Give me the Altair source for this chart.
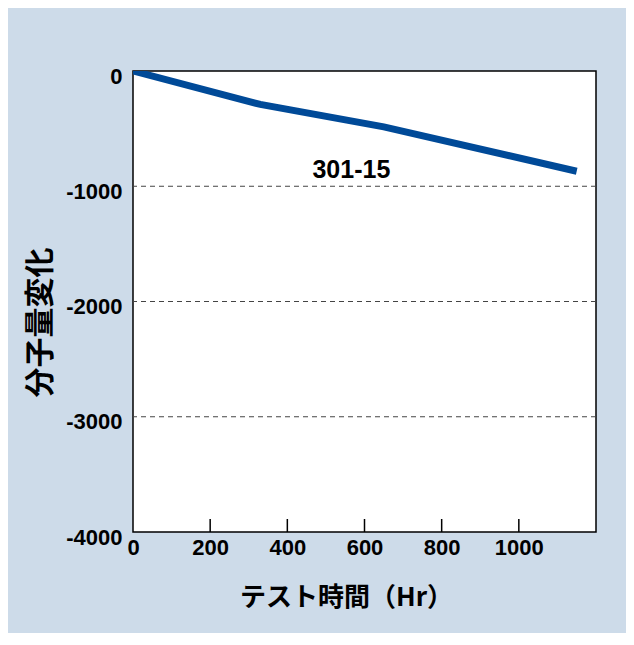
import altair as alt
import pandas as pd

# ---- data ----
HOURS = [0, 330, 650, 1150]
MW_CHANGE = [0, -290, -485, -870]
X_TICKS = [0, 200, 400, 600, 800, 1000]
Y_TICKS = [0, -1000, -2000, -3000, -4000]
GRID_VALUES = [-1000, -2000, -3000]
INNER_TICKS = [200, 400, 600, 800, 1000]
LABEL_TEXT = ["301-15"]
LABEL_X = [566]
LABEL_Y = [-855]

line_df = pd.DataFrame({"hours": HOURS, "change": MW_CHANGE})
grid_df = pd.DataFrame({"v": GRID_VALUES})
tick_df = pd.DataFrame({"t": INNER_TICKS})
label_df = pd.DataFrame({"x": LABEL_X, "y": LABEL_Y, "text": LABEL_TEXT})

W, H = 463, 461
x_scale = alt.Scale(domain=[0, 1200], nice=False, zero=False)
y_scale = alt.Scale(domain=[-4000, 0], nice=False)

NUM_FONT = "Liberation Sans"
JP_FONT = "Noto Sans CJK JP"

x_axis = alt.Axis(
    values=X_TICKS,
    labelExpr="toString(datum.value)",
    ticks=False,
    domain=False,
    grid=False,
    labelFlush=False,
    labelOverlap=False,
    labelPadding=5,
    labelFont=NUM_FONT,
    labelFontSize=22,
    labelFontWeight="bold",
    labelColor="black",
    title="テスト時間（Hr）",
    titleFont=JP_FONT,
    titleFontSize=26,
    titleFontWeight="bold",
    titleColor="black",
    titleX=213,
    titleY=65,
    titleAlign="center",
    titleBaseline="middle",
)

y_axis = alt.Axis(
    values=Y_TICKS,
    labelExpr="toString(datum.value)",
    ticks=False,
    domain=False,
    grid=False,
    labelOverlap=False,
    labelPadding=11,
    labelOffset=5,
    labelFont=NUM_FONT,
    labelFontSize=22,
    labelFontWeight="bold",
    labelColor="black",
    title="分子量変化",
    titleFont=JP_FONT,
    titleFontSize=30,
    titleFontWeight="bold",
    titleColor="black",
    titleX=-93,
    titleY=251,
    titleAngle=270,
    titleAlign="center",
    titleBaseline="middle",
)

line = alt.Chart(line_df).mark_line(color="#004a98", strokeWidth=7, strokeCap="butt", clip=True).encode(
    x=alt.X("hours:Q", scale=x_scale, axis=x_axis),
    y=alt.Y("change:Q", scale=y_scale, axis=y_axis),
)

grid = alt.Chart(grid_df).mark_rule(color="#444444", strokeWidth=1, strokeDash=[5, 4]).encode(
    y=alt.Y("v:Q", scale=y_scale, axis=y_axis)
)

ticks = alt.Chart(tick_df).mark_rule(color="black", strokeWidth=1.5).encode(
    x=alt.X("t:Q", scale=x_scale, axis=x_axis),
    y=alt.value(H),
    y2=alt.value(H - 13),
)

label = alt.Chart(label_df).mark_text(
    font=NUM_FONT, fontSize=25, fontWeight="bold", color="black", baseline="middle", align="center"
).encode(
    x=alt.X("x:Q", scale=x_scale, axis=x_axis),
    y=alt.Y("y:Q", scale=y_scale, axis=y_axis),
    text="text:N",
)

chart = (
    alt.layer(line, grid, ticks, label)
    .properties(
        width=W,
        height=H,
        autosize=alt.AutoSizeParams(type="none"),
        padding={"left": 125, "top": 63, "right": 30, "bottom": 101},
        background="#cddbe9",
    )
    .configure_view(stroke="black", strokeWidth=1.5, fill="white")
)

chart.save("out.html", embed_options={"renderer": "svg", "actions": False})
